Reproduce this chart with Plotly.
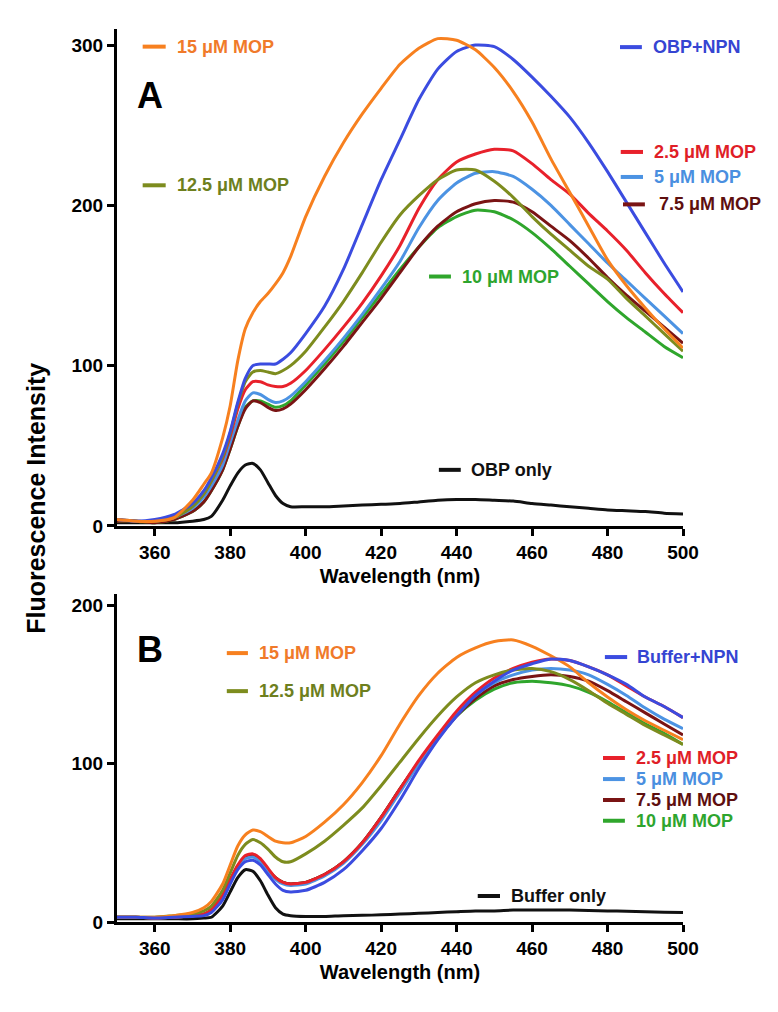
import plotly.graph_objects as go

# ---------------- data ----------------
wavelength = [350, 355, 360, 365, 370, 373, 375, 378, 380, 382, 384, 386, 388, 390, 392, 394, 396,
              400, 405, 410, 415, 420, 425, 430, 435, 440, 445, 450, 455, 460, 465, 470, 475, 480,
              485, 490, 495, 500]

# Panel A (OBP + NPN titration)
a_obp_npn = [4, 3, 4, 7, 14, 22, 30, 45, 59, 77, 92, 100, 101, 101, 101, 104, 108,
             120, 137, 160, 188, 216, 241, 266, 285, 296, 300, 299, 291, 280, 268, 255, 239, 221,
             202, 183, 164, 146]
a_mop_2_5 = [4, 3, 3, 6, 13, 20, 28, 42, 56, 73, 85, 90, 90, 88, 87, 87, 89,
             97, 110, 124, 139, 156, 175, 198, 216, 227, 232, 235, 234, 226, 216, 207, 195, 184,
             172, 158, 145, 133]
a_mop_5 = [4, 3, 3, 5, 11, 18, 25, 38, 52, 66, 78, 83, 82, 79, 77, 78, 81,
           90, 103, 117, 132, 148, 165, 186, 203, 214, 220, 221, 218, 210, 200, 188, 176, 164,
           153, 142, 131, 120]
a_mop_7_5 = [3, 3, 2, 4, 9, 15, 22, 35, 48, 62, 73, 78, 77, 74, 72, 73, 76,
             85, 98, 112, 127, 142, 158, 174, 187, 196, 201, 203, 202, 196, 187, 178, 167, 155,
             144, 134, 124, 114]
a_mop_10 = [3, 3, 2, 4, 9, 15, 22, 35, 48, 62, 74, 78, 78, 76, 74, 75, 78,
            88, 101, 115, 130, 145, 160, 174, 186, 193, 197, 196, 191, 183, 173, 162, 151, 140,
            130, 121, 112, 105]
a_mop_12_5 = [4, 3, 3, 5, 12, 20, 28, 43, 58, 76, 90, 96, 97, 96, 95, 97, 100,
              109, 124, 140, 158, 177, 194, 206, 216, 222, 222, 215, 205, 193, 182, 172, 162, 154,
              142, 131, 120, 109]
a_mop_15 = [4, 3, 3, 5, 16, 26, 33, 55, 75, 103, 123, 133, 140, 145, 151, 158, 168,
            193, 218, 239, 257, 273, 288, 298, 304, 303, 297, 286, 271, 252, 229, 208, 187, 166,
            150, 136, 123, 111]
a_obp_only = [2, 2, 2, 2, 3, 4, 6, 16, 25, 33, 38, 39, 35, 27, 19, 14, 12,
              12, 12, 12.5, 13, 13.5, 14, 15, 16, 16.5, 16.5, 16, 15.5, 14, 13, 12, 11, 10,
              9.5, 9, 8, 7.5]

# Panel B (buffer + NPN titration)
b_buf_npn = [3, 3, 2.5, 3, 3.5, 4, 6, 14, 24, 33, 38, 39, 36, 30, 24, 20, 19,
             20, 25, 33, 45, 59, 77, 97, 115, 130, 143, 152, 159, 163, 166, 165, 161, 156,
             150, 142, 136, 129]
b_mop_2_5 = [3, 3, 2.5, 3, 4, 5, 8, 17, 27, 36, 42, 43, 40, 34, 28, 25, 24,
             25, 30, 38, 50, 66, 84, 102, 118, 133, 145, 154, 160, 164, 166, 165, 161, 156,
             149, 142, 136, 129]
b_mop_5 = [3, 3, 2.5, 3, 4, 5, 7, 16, 26, 35, 40, 41, 38, 32, 27, 24, 23,
           24, 29, 37, 49, 64, 82, 100, 116, 131, 143, 151, 156, 159, 160, 159, 156, 150,
           143, 135, 128, 122]
b_mop_7_5 = [3, 3, 2.5, 3, 4, 5, 7, 16, 26, 35, 41, 42, 39, 33, 28, 25, 24,
             25, 30, 38, 50, 66, 84, 101, 116, 130, 141, 149, 153, 155, 156, 155, 152, 146,
             139, 132, 125, 118]
b_mop_10 = [3, 3, 2.5, 3, 4, 5, 7, 16, 26, 35, 41, 42, 39, 33, 28, 25, 24,
            25, 30, 38, 50, 66, 84, 101, 116, 130, 140, 147, 151, 152, 151, 149, 145, 139,
            132, 125, 119, 112]
b_mop_12_5 = [3, 3, 3, 4, 5, 7, 10, 20, 31, 42, 49, 52, 50, 46, 41, 38, 38,
              43, 51, 61, 72, 86, 101, 116, 130, 142, 151, 156, 159, 160, 158, 153, 146, 138,
              131, 124, 118, 112]
b_mop_15 = [3, 3, 3, 4, 6, 9, 13, 24, 36, 48, 55, 58, 57, 54, 51, 50, 50,
            54, 63, 74, 88, 105, 125, 143, 157, 167, 173, 177, 178, 174, 168, 161, 151, 142,
            134, 127, 121, 115]
b_buf_only = [2, 2, 2, 2, 2, 2.5, 3, 10, 19, 28, 33, 32, 26, 17, 9, 5, 4,
              3.5, 3.5, 4, 4.2, 4.5, 5, 5.5, 6, 6.5, 7, 7, 7.5, 7.5, 7.5, 7.5, 7.2, 7,
              6.8, 6.5, 6.2, 6]

x_ticks = [360, 380, 400, 420, 440, 460, 480, 500]
ya_ticks = [0, 100, 200, 300]
yb_ticks = [0, 100, 200]

# ---------------- styles ----------------
C = {
    "npn": "#3B4CE0",
    "2.5": "#E8212B",
    "5": "#4C93E3",
    "7.5": "#7A1414",
    "10": "#2FA62C",
    "12.5": "#7D8C1E",
    "15": "#F7801F",
    "only": "#111111",
}
TXT = {
    "npn": "#3545D2",
    "2.5": "#E01E27",
    "5": "#4A8FE0",
    "7.5": "#5E0F0F",
    "10": "#2EA52E",
    "12.5": "#6E7F1E",
    "15": "#F07A2A",
    "only": "#111111",
}
FONT = "Liberation Sans, Arial, Helvetica, sans-serif"

fig = go.Figure()

series_a = [
    ("OBP only", a_obp_only, "only"),
    ("10 μM MOP", a_mop_10, "10"),
    ("7.5 μM MOP", a_mop_7_5, "7.5"),
    ("5 μM MOP", a_mop_5, "5"),
    ("2.5 μM MOP", a_mop_2_5, "2.5"),
    ("12.5 μM MOP", a_mop_12_5, "12.5"),
    ("OBP+NPN", a_obp_npn, "npn"),
    ("15 μM MOP", a_mop_15, "15"),
]
series_b = [
    ("Buffer only", b_buf_only, "only"),
    ("10 μM MOP", b_mop_10, "10"),
    ("7.5 μM MOP", b_mop_7_5, "7.5"),
    ("5 μM MOP", b_mop_5, "5"),
    ("2.5 μM MOP", b_mop_2_5, "2.5"),
    ("12.5 μM MOP", b_mop_12_5, "12.5"),
    ("15 μM MOP", b_mop_15, "15"),
    ("Buffer+NPN", b_buf_npn, "npn"),
]

for name, vals, key in series_a:
    fig.add_trace(go.Scatter(x=wavelength, y=vals, mode="lines", name=name,
                             line=dict(color=C[key], width=3, shape="spline", smoothing=0.6),
                             xaxis="x", yaxis="y", showlegend=False))
for name, vals, key in series_b:
    fig.add_trace(go.Scatter(x=wavelength, y=vals, mode="lines", name=name,
                             line=dict(color=C[key], width=3, shape="spline", smoothing=0.6),
                             xaxis="x2", yaxis="y2", showlegend=False))

# inline legend entries: (label, key, segment x0, segment x1, y, text x)
legend_a = [
    ("15 μM MOP", "15", 356.8, 362.9, 299, 365.3),
    ("12.5 μM MOP", "12.5", 356.8, 362.9, 212.5, 365.3),
    ("OBP+NPN", "npn", 483.3, 489.1, 298.7, 491.5),
    ("2.5 μM MOP", "2.5", 483.5, 489.4, 233.3, 491.7),
    ("5 μM MOP", "5", 483.5, 489.4, 217.7, 491.7),
    ("7.5 μM MOP", "7.5", 484.1, 489.9, 200.6, 493.1),
    ("10 μM MOP", "10", 432.7, 438.5, 155.6, 441.0),
    ("OBP only", "only", 435.3, 441.1, 35, 443.3),
]
legend_b = [
    ("15 μM MOP", "15", 379.1, 384.7, 169.7, 387.0),
    ("12.5 μM MOP", "12.5", 379.1, 384.7, 145.7, 387.0),
    ("Buffer+NPN", "npn", 479.3, 485.2, 167.2, 487.4),
    ("2.5 μM MOP", "2.5", 478.8, 484.6, 103.5, 487.0),
    ("5 μM MOP", "5", 478.8, 484.6, 90.2, 487.0),
    ("7.5 μM MOP", "7.5", 478.8, 484.6, 77.0, 487.0),
    ("10 μM MOP", "10", 478.8, 484.6, 63.9, 487.0),
    ("Buffer only", "only", 445.6, 451.5, 16.4, 453.8),
]

shapes = []
annotations = []
for entries, xr, yr in ((legend_a, "x", "y"), (legend_b, "x2", "y2")):
    for label, key, x0, x1, yv, xt in entries:
        shapes.append(dict(type="line", xref=xr, yref=yr, x0=x0, x1=x1, y0=yv, y1=yv,
                           line=dict(color=C[key], width=4)))
        annotations.append(dict(xref=xr, yref=yr, x=xt, y=yv, text=label, showarrow=False,
                                xanchor="left", yanchor="middle",
                                font=dict(family=FONT, size=18, color=TXT[key], weight="bold")))

# panel letters
annotations.append(dict(xref="x", yref="y", x=358.8, y=268.4, text="A", showarrow=False,
                        xanchor="center", yanchor="middle",
                        font=dict(family=FONT, size=36, color="black", weight="bold")))
annotations.append(dict(xref="x2", yref="y2", x=358.8, y=171.9, text="B", showarrow=False,
                        xanchor="center", yanchor="middle",
                        font=dict(family=FONT, size=36, color="black", weight="bold")))

# shared y title
annotations.append(dict(xref="paper", yref="paper", x=-0.143, y=0.474,
                        text="Fluorescence Intensity", textangle=-90, showarrow=False,
                        xanchor="center", yanchor="middle",
                        font=dict(family=FONT, size=25, color="black", weight="bold")))

axis_common = dict(showgrid=False, zeroline=False, showline=True, linecolor="black",
                   linewidth=3, ticks="outside", ticklen=7, tickwidth=2.5, tickcolor="black",
                   tickfont=dict(family=FONT, size=19, color="black", weight="bold"))

xa = dict(axis_common, range=[350, 500], tickvals=x_ticks,
          title=dict(text="Wavelength (nm)", standoff=8,
                     font=dict(family=FONT, size=20, color="black", weight="bold")))

# page body adds an 8px offset, so the figure is 8px smaller and margins shifted
fig.update_layout(
    width=770, height=1004, autosize=False,
    paper_bgcolor="white", plot_bgcolor="white",
    margin=dict(l=109, r=95, t=21, b=90),
    xaxis=dict(xa, domain=[0, 1], anchor="y"),
    yaxis=dict(axis_common, range=[0, 310], tickvals=ya_ticks, domain=[0.4435, 1.0], anchor="x"),
    xaxis2=dict(xa, domain=[0, 1], anchor="y2"),
    yaxis2=dict(axis_common, range=[0, 207], tickvals=yb_ticks, domain=[0.0, 0.3673], anchor="x2"),
    shapes=shapes,
    annotations=annotations,
    showlegend=False,
)

fig.write_html("out.html")
